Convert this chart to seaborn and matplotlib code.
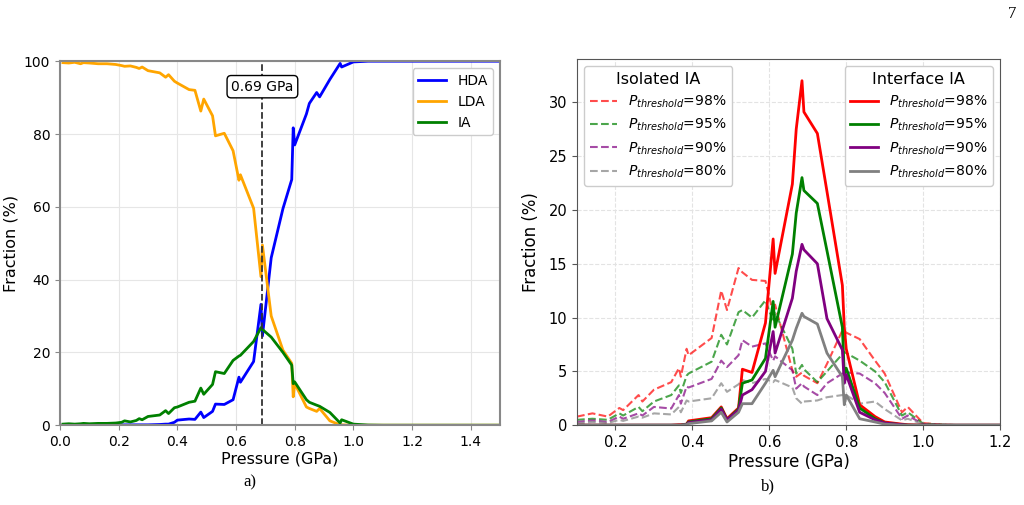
import matplotlib
matplotlib.use("Agg")
import matplotlib.pyplot as plt
import seaborn as sns

# ---- panel a) phase fractions vs pressure
pressure_a = [0.01, 0.03, 0.05, 0.07, 0.08, 0.10, 0.13, 0.16, 0.19, 0.21, 0.22, 0.24,
              0.26, 0.27, 0.28, 0.30, 0.34, 0.36, 0.37, 0.39, 0.40, 0.44, 0.46, 0.48,
              0.49, 0.52, 0.53, 0.56, 0.59, 0.61, 0.615, 0.66, 0.685, 0.69, 0.72, 0.76,
              0.79, 0.795, 0.80, 0.84, 0.85, 0.875, 0.885, 0.92, 0.955, 0.96, 1.00, 1.05,
              1.10, 1.20, 1.30, 1.40, 1.50]
hda = [0.0, 0.0, 0.0, 0.0, 0.0, 0.0, 0.0, 0.0, 0.0, 0.1, 0.1, 0.1,
       0.1, 0.1, 0.1, 0.1, 0.2, 0.3, 0.3, 0.8, 1.4, 1.7, 1.6, 3.6,
       2.1, 3.8, 5.8, 5.7, 7.0, 13.2, 11.8, 17.5, 33.2, 24.5, 46.0, 59.5,
       67.5, 81.7, 77.0, 85.5, 88.4, 91.4, 90.2, 95.0, 99.4, 98.4, 99.8, 100.0,
       100.0, 100.0, 100.0, 100.0, 100.0]
lda = [99.6, 99.5, 99.7, 99.3, 99.6, 99.5, 99.3, 99.3, 99.1, 98.8, 98.6, 98.7,
       98.3, 98.0, 98.4, 97.4, 96.8, 95.6, 96.3, 94.5, 94.0, 92.2, 92.0, 86.3,
       89.6, 85.0, 79.5, 80.2, 75.4, 67.3, 68.8, 59.6, 40.8, 49.5, 30.0, 20.6,
       17.0, 7.8, 11.5, 5.0, 4.6, 3.8, 4.6, 1.2, 0.1, 0.1, 0.0, 0.0,
       0.0, 0.0, 0.0, 0.0, 0.0]
ia = [0.3, 0.4, 0.3, 0.4, 0.5, 0.4, 0.5, 0.5, 0.6, 0.8, 1.2, 0.9,
      1.3, 1.8, 1.5, 2.4, 2.8, 4.0, 3.2, 4.8, 5.0, 6.3, 6.6, 10.2,
      8.5, 11.2, 14.7, 14.2, 17.8, 19.0, 19.2, 23.0, 26.8, 26.3, 24.2, 20.0,
      16.5, 11.4, 11.9, 7.0, 6.3, 5.5, 5.2, 3.5, 0.6, 1.5, 0.3, 0.05,
      0.0, 0.0, 0.0, 0.0, 0.0]
transition_p = 0.69

# ---- panel b) isolated / interface IA for several thresholds
pressure_b = [0.10, 0.14, 0.18, 0.21, 0.22, 0.26, 0.27, 0.30, 0.345, 0.365, 0.37, 0.385,
              0.39, 0.45, 0.475, 0.49, 0.52, 0.53, 0.555, 0.59, 0.61, 0.615, 0.66, 0.67,
              0.685, 0.69, 0.725, 0.75, 0.79, 0.795, 0.80, 0.835, 0.875, 0.90, 0.945, 0.96,
              1.00, 1.05, 1.10, 1.20]
thresholds = ["98", "95", "90", "80"]
iso_98 = [0.8, 1.1, 0.8, 1.6, 1.4, 2.8, 2.2, 3.3, 4.0, 5.3, 4.5, 7.1,
          6.5, 8.1, 12.5, 10.7, 14.6, 14.2, 13.5, 13.4, 10.4, 11.2, 5.1, 4.5,
          4.9, 4.6, 3.9, 5.7, 8.8, 8.8, 8.6, 8.0, 6.0, 4.8, 1.2, 1.7,
          0.2, 0.05, 0.0, 0.0]
iso_95 = [0.5, 0.6, 0.5, 1.1, 0.9, 1.7, 1.3, 2.2, 2.8, 3.7, 3.0, 4.6,
          4.8, 5.9, 8.4, 7.5, 10.5, 10.7, 10.0, 11.6, 9.6, 10.4, 7.1, 4.8,
          5.6, 5.2, 4.0, 5.0, 6.6, 6.8, 6.7, 6.0, 5.0, 4.0, 0.9, 1.2,
          0.15, 0.05, 0.0, 0.0]
iso_90 = [0.3, 0.45, 0.3, 0.8, 0.6, 1.1, 0.9, 1.7, 1.55, 2.8, 2.0, 3.6,
          3.5, 4.3, 6.0, 5.4, 6.5, 7.9, 7.3, 7.6, 6.0, 6.4, 5.1, 3.4,
          3.9, 3.6, 2.8, 3.9, 4.8, 5.0, 4.9, 4.8, 3.9, 3.0, 0.6, 0.9,
          0.1, 0.03, 0.0, 0.0]
iso_80 = [0.15, 0.3, 0.2, 0.5, 0.4, 0.8, 0.7, 1.1, 1.0, 1.7, 1.2, 2.3,
          2.2, 2.5, 3.9, 3.1, 3.8, 4.2, 3.9, 4.3, 4.0, 4.2, 3.5, 2.5,
          2.0, 2.2, 2.3, 2.6, 2.8, 2.9, 2.8, 2.0, 2.2, 1.5, 0.45, 0.6,
          0.1, 0.0, 0.0, 0.0]
int_98 = [0.0, 0.0, 0.0, 0.0, 0.0, 0.0, 0.0, 0.0, 0.0, 0.05, 0.05, 0.1,
          0.4, 0.7, 1.7, 0.6, 1.6, 5.2, 4.9, 9.5, 17.3, 14.1, 22.4, 27.5,
          32.0, 29.1, 27.1, 21.7, 13.0, 9.1, 7.1, 1.9, 0.8, 0.3, 0.1, 0.05,
          0.0, 0.0, 0.0, 0.0]
int_95 = [0.0, 0.0, 0.0, 0.0, 0.0, 0.0, 0.0, 0.0, 0.0, 0.0, 0.0, 0.1,
          0.3, 0.6, 1.6, 0.5, 1.5, 3.9, 4.2, 6.2, 11.5, 9.1, 15.9, 19.7,
          23.0, 21.8, 20.6, 16.2, 9.1, 4.8, 5.3, 1.6, 0.6, 0.2, 0.05, 0.0,
          0.0, 0.0, 0.0, 0.0]
int_90 = [0.0, 0.0, 0.0, 0.0, 0.0, 0.0, 0.0, 0.0, 0.0, 0.0, 0.0, 0.05,
          0.25, 0.5, 1.5, 0.5, 1.4, 2.8, 3.3, 5.0, 8.7, 6.7, 11.8, 14.3,
          16.8, 16.3, 15.0, 9.9, 7.0, 3.9, 4.7, 1.2, 0.5, 0.2, 0.05, 0.0,
          0.0, 0.0, 0.0, 0.0]
int_80 = [0.0, 0.0, 0.0, 0.0, 0.0, 0.0, 0.0, 0.0, 0.0, 0.0, 0.0, 0.05,
          0.15, 0.4, 1.2, 0.3, 1.2, 2.0, 2.0, 3.9, 5.1, 4.5, 7.9, 9.0,
          10.4, 10.1, 9.4, 6.7, 4.5, 1.9, 2.8, 0.6, 0.3, 0.1, 0.0, 0.0,
          0.0, 0.0, 0.0, 0.0]
thr_colors = ["red", "green", "purple", "gray"]

plt.rcParams['font.family'] = ['DejaVu Sans']

fig = plt.figure(figsize=(10.24, 5.05), dpi=100)
ax1 = fig.add_axes([0.0586, 0.158, 0.4297, 0.7208])
ax2 = fig.add_axes([0.5635, 0.158, 0.4131, 0.7248])

# ---- a)
sns.lineplot(x=pressure_a, y=hda, color="blue", lw=2, ax=ax1, label="HDA")
sns.lineplot(x=pressure_a, y=lda, color="orange", lw=2, ax=ax1, label="LDA")
sns.lineplot(x=pressure_a, y=ia, color="green", lw=2, ax=ax1, label="IA")
ax1.axvline(transition_p, color="#333333", ls="--", lw=1.3)
ax1.text(transition_p, 93, f"{transition_p:.2f} GPa", ha="center", va="center", fontsize=10,
         bbox=dict(boxstyle="round,pad=0.3", fc="white", ec="black", lw=1))
ax1.set_xlim(0, 1.5)
ax1.set_ylim(0, 100)
ax1.set_xticks([0.0, 0.2, 0.4, 0.6, 0.8, 1.0, 1.2, 1.4])
ax1.set_yticks([0, 20, 40, 60, 80, 100])
ax1.grid(True, color="#e6e6e6", lw=0.8)
ax1.set_axisbelow(True)
ax1.set_xlabel("Pressure (GPa)", fontsize=11.5, labelpad=2)
ax1.set_ylabel("Fraction (%)", fontsize=11.5, labelpad=4)
ax1.tick_params(labelsize=10, color="#888888")
for sp in ax1.spines.values():
    sp.set_color("#888888")
    sp.set_linewidth(1.5)
ax1.legend(loc="upper right", fontsize=10, framealpha=1)

# ---- b)
iso_series = [iso_98, iso_95, iso_90, iso_80]
int_series = [int_98, int_95, int_90, int_80]
iso_handles = []
int_handles = []
for thr, col, vals in zip(thresholds, thr_colors, iso_series):
    sns.lineplot(x=pressure_b, y=vals, color=col, lw=1.5, ls="--", alpha=0.7, ax=ax2)
    iso_handles.append(ax2.lines[-1])
for thr, col, vals in zip(thresholds, thr_colors, int_series):
    sns.lineplot(x=pressure_b, y=vals, color=col, lw=2, ax=ax2)
    int_handles.append(ax2.lines[-1])
labels = [f"$P_{{threshold}}$={t}%" for t in thresholds]
leg1 = ax2.legend(iso_handles, labels, title="Isolated IA", loc="upper left",
                  fontsize=10, title_fontsize=11.5, framealpha=1)
ax2.add_artist(leg1)
ax2.legend(int_handles, labels, title="Interface IA", loc="upper right",
           fontsize=10, title_fontsize=11.5, framealpha=1)
ax2.set_xlim(0.1, 1.2)
ax2.set_ylim(0, 34)
ax2.set_xticks([0.2, 0.4, 0.6, 0.8, 1.0, 1.2])
ax2.set_yticks([0, 5, 10, 15, 20, 25, 30])
ax2.grid(True, ls="--", color="#e3e3e3", lw=0.8)
ax2.set_axisbelow(True)
ax2.set_xlabel("Pressure (GPa)", fontsize=12, labelpad=2)
ax2.set_ylabel("Fraction (%)", fontsize=12, labelpad=6)
ax2.tick_params(labelsize=10.5, color="#555555")
for sp in ax2.spines.values():
    sp.set_color("#555555")

serif = ["Liberation Serif", "DejaVu Serif"]
fig.text(0.244, 0.036, "a)", family=serif, fontsize=12, ha="center")
fig.text(0.75, 0.028, "b)", family=serif, fontsize=12, ha="center")
fig.text(0.988, 0.965, "7", family=serif, fontsize=12, ha="center")

fig.savefig("out.png", dpi=100)
